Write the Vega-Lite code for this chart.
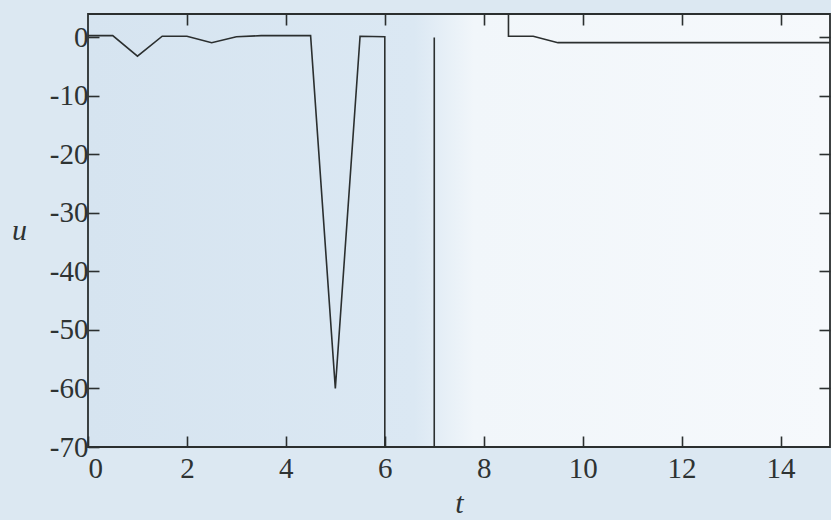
{
  "$schema": "https://vega.github.io/schema/vega-lite/v6.json",
  "width": 742,
  "height": 433,
  "autosize": {"type": "none"},
  "padding": {"left": 88, "top": 14, "right": 1, "bottom": 73},
  "background": "#dce8f2",
  "config": {
    "view": {"stroke": "#2b2f2f", "strokeWidth": 1.8,
      "fill": {"gradient": "linear", "x1": 0, "y1": 0, "x2": 1, "y2": 0,
        "stops": [
          {"offset": 0, "color": "#d6e4f0"},
          {"offset": 0.44, "color": "#dbe8f3"},
          {"offset": 0.52, "color": "#f1f6fa"},
          {"offset": 1, "color": "#f6f9fc"}
        ]}},
    "axis": {
      "domain": false,
      "grid": false,
      "tickColor": "#2b2f2f",
      "tickWidth": 1.6,
      "tickSize": -11,
      "labelFont": "Liberation Serif",
      "labelFontSize": 29,
      "labelColor": "#2e3333",
      "labelExpr": "datum.value < 0 ? '-' + abs(datum.value) : '' + datum.value",
      "titleFont": "Liberation Serif",
      "titleFontSize": 30,
      "titleFontStyle": "italic",
      "titleFontWeight": "normal",
      "titleColor": "#2e3333"
    }
  },
  "data": {
    "values": [
      {"t": 0, "u": 0.3},
      {"t": 0.5, "u": 0.3},
      {"t": 1, "u": -3.2},
      {"t": 1.5, "u": 0.2},
      {"t": 2, "u": 0.2},
      {"t": 2.5, "u": -0.9},
      {"t": 3, "u": 0.1},
      {"t": 3.5, "u": 0.3},
      {"t": 4, "u": 0.3},
      {"t": 4.5, "u": 0.3},
      {"t": 5, "u": -60},
      {"t": 5.5, "u": 0.2},
      {"t": 6, "u": 0.1},
      {"t": 6.5, "u": -100000},
      {"t": 7, "u": 0},
      {"t": 7.5, "u": null},
      {"t": 8, "u": 100000},
      {"t": 8.5, "u": 0.2},
      {"t": 9, "u": 0.2},
      {"t": 9.5, "u": -0.9},
      {"t": 10, "u": -0.9},
      {"t": 10.5, "u": -0.9},
      {"t": 11, "u": -0.9},
      {"t": 11.5, "u": -0.9},
      {"t": 12, "u": -0.9},
      {"t": 12.5, "u": -0.9},
      {"t": 13, "u": -0.9},
      {"t": 13.5, "u": -0.9},
      {"t": 14, "u": -0.9},
      {"t": 14.5, "u": -0.9},
      {"t": 15, "u": -0.9}
    ]
  },
  "layer": [
    {
      "mark": {"type": "line", "clip": true, "color": "#2b2f2f", "strokeWidth": 1.6, "invalid": "break-paths-show-domains"},
      "encoding": {
        "x": {"field": "t", "type": "quantitative", "scale": {"domain": [0, 15], "nice": false, "zero": false},
              "axis": {"orient": "bottom", "title": "t", "values": [0, 2, 4, 6, 8, 10, 12, 14], "labelPadding": 18, "labelDx": 3, "titleX": 371, "titleY": 56, "titleBaseline": "middle", "titleAlign": "center"}},
        "y": {"field": "u", "type": "quantitative", "scale": {"domain": [-70, 4], "nice": false, "zero": false},
              "axis": {"orient": "left", "title": "u", "values": [-70, -60, -50, -40, -30, -20, -10, 0], "labelPadding": 11, "titleAngle": 0, "titleX": -69, "titleY": 216, "titleBaseline": "middle", "titleAlign": "center"}}
      }
    },
    {
      "mark": {"type": "line", "clip": true, "strokeOpacity": 0, "invalid": "break-paths-show-domains"},
      "encoding": {
        "x": {"field": "t", "type": "quantitative", "scale": {"domain": [0, 15], "nice": false, "zero": false},
              "axis": {"orient": "top", "title": null, "labels": false, "values": [2, 4, 6, 8, 10, 12, 14]}},
        "y": {"field": "u", "type": "quantitative", "scale": {"domain": [-70, 4], "nice": false, "zero": false},
              "axis": {"orient": "right", "title": null, "labels": false, "values": [-60, -50, -40, -30, -20, -10, 0]}}
      }
    }
  ],
  "resolve": {"axis": {"x": "independent", "y": "independent"}}
}
